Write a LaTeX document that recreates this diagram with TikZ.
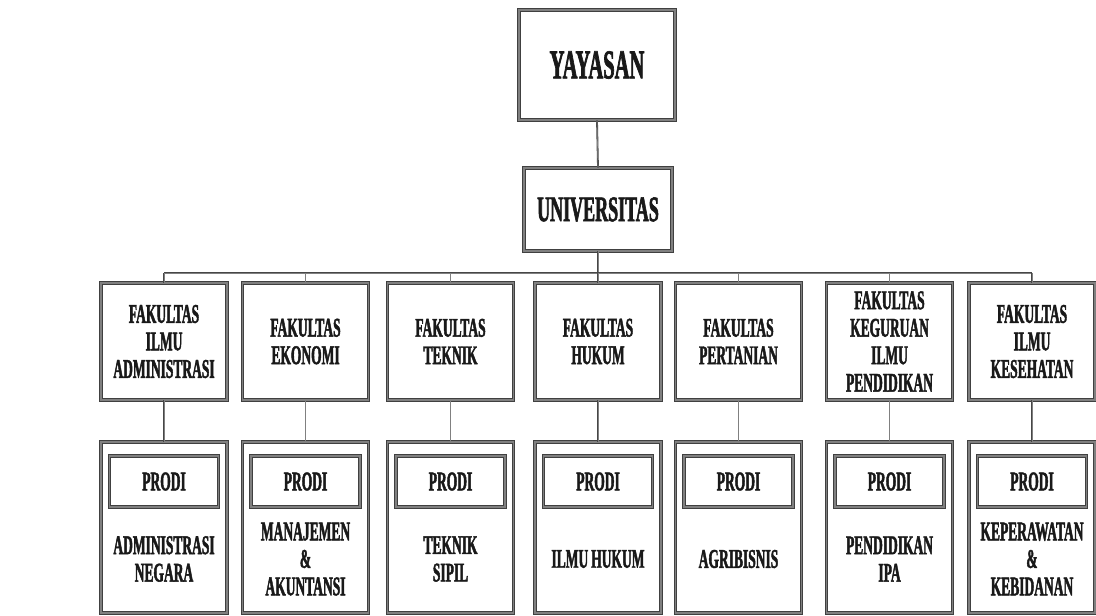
\documentclass[tikz,border=0pt]{standalone}
\usepackage{fontspec}
\newfontfamily\orgfont[FakeStretch=0.5,FakeBold=1.6]{Liberation Serif}
\begin{document}
\begin{tikzpicture}[x=1pt,y=-1pt,
  boxline/.style={draw=black!75, line width=0.9pt, double=black!50, double distance=1.3pt},
  conn/.style={draw=black!72, line width=0.6pt, double=black!50, double distance=0.6pt},
  orgtext/.style={text=black!90, font=\orgfont\bfseries\fontsize{27}{27.5}\selectfont, align=center, inner sep=0pt},
  topbox/.style={boxline, fill=white, minimum width=156pt, minimum height=110pt, font=\orgfont\bfseries\fontsize{41}{41}\selectfont, text=black!90},
  unibox/.style={boxline, fill=white, minimum width=148pt, minimum height=83pt, font=\orgfont\bfseries\fontsize{36}{36}\selectfont, text=black!90},
  facbox/.style={boxline, fill=white, minimum width=126pt, minimum height=117pt, orgtext},
  prodibox/.style={boxline, fill=white, minimum width=126pt, minimum height=171pt},
  prodilabel/.style={boxline, fill=white, minimum width=109pt, minimum height=51pt, orgtext},
  proditext/.style={orgtext, text width=124pt}
]
\useasboundingbox (0,0) rectangle (1096,616);
\fill[white] (0,0) rectangle (1096,616);

\node[topbox] (yay) at (597,65) {YAYASAN};
\node[unibox] (univ) at (598,209.5) {UNIVERSITAS};

\node[facbox] (f1) at (164,341.5) {FAKULTAS\\ILMU\\ADMINISTRASI};
\node[facbox] (f2) at (305.5,341.5) {FAKULTAS\\EKONOMI};
\node[facbox] (f3) at (450.5,341.5) {FAKULTAS\\TEKNIK};
\node[facbox] (f4) at (598,341.5) {FAKULTAS\\HUKUM};
\node[facbox] (f5) at (738.5,341.5) {FAKULTAS\\PERTANIAN};
\node[facbox] (f6) at (889.5,341.5) {FAKULTAS\\KEGURUAN\\ILMU\\PENDIDIKAN};
\node[facbox] (f7) at (1032,341.5) {FAKULTAS\\ILMU\\KESEHATAN};

\foreach \i/\x/\t in {1/164/{ADMINISTRASI\\NEGARA},
                      2/305.5/{MANAJEMEN\\\&\\AKUNTANSI},
                      3/450.5/{TEKNIK\\SIPIL},
                      4/598/{ILMU\kern3pt HUKUM},
                      5/738.5/{AGRIBISNIS},
                      6/889.5/{PENDIDIKAN\\IPA},
                      7/1032/{KEPERAWATAN\\\&\\KEBIDANAN}} {
  \node[prodibox] (p\i) at (\x,527.5) {};
  \node[prodilabel] (pl\i) at (\x,481.5) {PRODI};
  \node[proditext] (pt\i) at (\x,559) {\t};
}

\coordinate (bus) at (598,273);
\draw[conn] (yay.south) -- (univ.north);
\draw[conn] (univ.south) -- (bus);
\draw[conn] (f1.north |- bus) -- (f7.north |- bus);
\foreach \i in {1,...,7} {
  \draw[conn] (f\i.north |- bus) -- (f\i.north);
  \draw[conn] (f\i.south) -- (p\i.north);
}
\end{tikzpicture}
\end{document}
